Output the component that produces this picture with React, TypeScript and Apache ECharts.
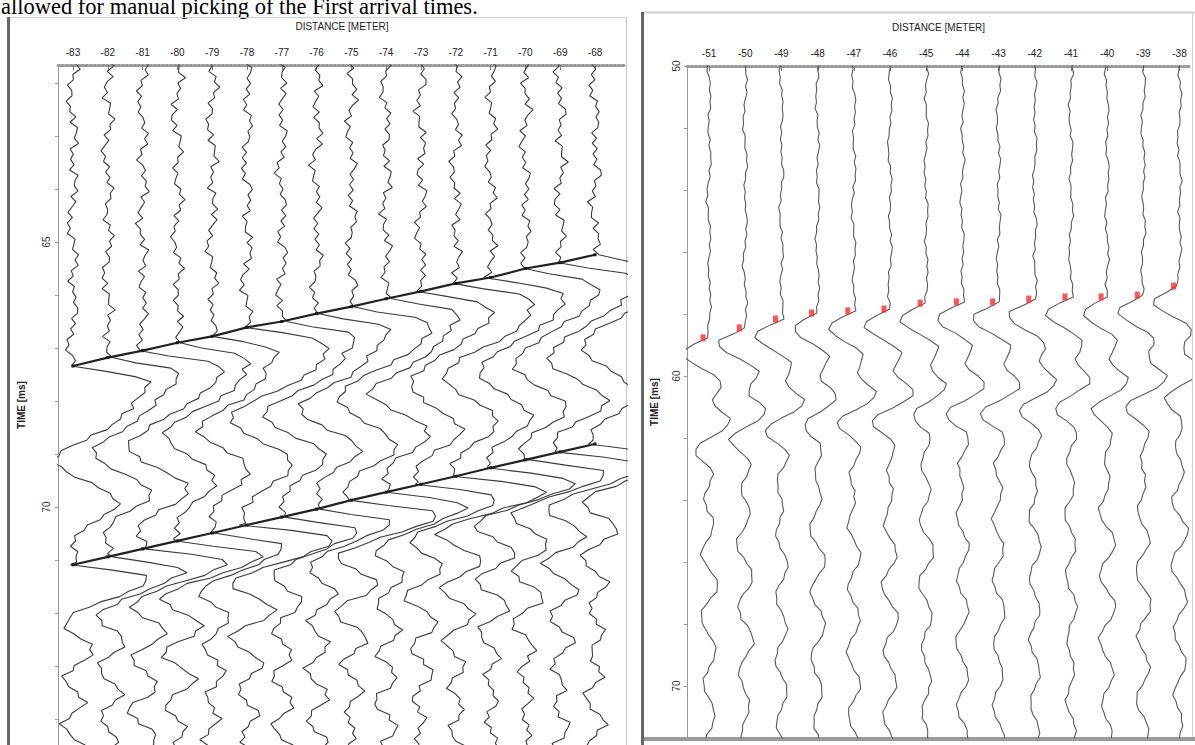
import React, { useEffect, useRef } from "react";
import * as echarts from "echarts";

// ---------- LEFT PANEL DATA ----------
const DIST_L = [-83, -82, -81, -80, -79, -78, -77, -76, -75, -74, -73, -72, -71, -70, -69, -68];
const X_TICKS_L = DIST_L;
const Y_LABELS_L = [65, 70];
const Y_TICKS_L = [62, 63, 64, 65, 66, 67, 68, 69, 70, 71, 72, 73, 74];
// first-arrival picks (ms)
const PICK1_L = [67.34, 67.18, 67.05, 66.9, 66.78, 66.61, 66.5, 66.35, 66.22, 66.07, 65.93, 65.78, 65.67, 65.5, 65.39, 65.24];
// second event picks (ms)
const PICK2_L = [71.09, 70.94, 70.79, 70.64, 70.49, 70.34, 70.19, 70.04, 69.87, 69.72, 69.57, 69.42, 69.26, 69.11, 68.96, 68.81];
const GAIN_L = [1.0, 0.95, 1.05, 1.0, 0.9, 1.1, 1.0, 0.95, 1.05, 1.0, 0.92, 1.08, 1.0, 0.97, 1.03, 0.95];
const NOFF_L = [0, 17, 33, 8, 41, 25, 12, 46, 3, 29, 38, 20, 9, 44, 27, 14];
const DT_L = 0.1; // ms per sample
const PRE_L = 60;
// wavelet after first arrival (amplitude in metres of trace offset)
const WAVE1_L = [0, 0.86, 1.72, 2.07, 2.13, 2.01, 1.9, 1.78, 1.67, 1.49, 1.29, 1.06, 0.8, 0.52, 0.23, 0, -0.23, -0.37, -0.4, -0.29, -0.09, 0.17, 0.46, 0.75, 0.98, 1.15, 1.21, 1.15, 0.98, 0.75, 0.49, 0.26, 0.09, 0, -0.06, -0.06, 0, 0];
// wavelet after second event
const WAVE2_L = [0, 1.15, 2.16, 2.3, 2.07, 1.72, 1.29, 0.86, 0.43, 0.06, -0.23, -0.34, -0.23, 0, 0.29, 0.52, 0.63, 0.52, 0.29, 0, -0.23, -0.34, -0.29, -0.11, 0.11, 0.34, 0.43, 0.34, 0.14, -0.09, -0.26, -0.29, -0.17, 0, 0.17, 0.29, 0.26, 0.11, -0.06, -0.2, -0.23, -0.14, 0, 0.14, 0.23, 0.17, 0.03, -0.11, -0.2, -0.17, -0.06, 0.09, 0.2, 0.2, 0.09, -0.06, -0.17, -0.17, -0.06, 0.09, 0.17, 0.14, 0.03, -0.09, -0.17, -0.14, -0.03, 0.09, 0.14, 0.11, 0, -0.11, -0.14, -0.09, 0.03, 0.11, 0.14, 0.09, -0.03, -0.11];
const NOISE_AMP_L = 0.12;
const DRIFT_AMP_L = 0.14;

// ---------- RIGHT PANEL DATA ----------
const DIST_R = [-51, -50, -49, -48, -47, -46, -45, -44, -43, -42, -41, -40, -39, -38];
const X_TICKS_R = DIST_R;
const Y_LABELS_R = [50, 60, 70];
const Y_TICKS_R = [50, 52, 54, 56, 58, 60, 62, 64, 66, 68, 70];
const PICK_R = [58.77, 58.45, 58.16, 57.97, 57.9, 57.84, 57.65, 57.61, 57.61, 57.52, 57.45, 57.45, 57.39, 57.1];
const GAIN_R = [1.0, 1.05, 1.0, 0.95, 1.0, 1.05, 0.95, 1.0, 1.05, 1.0, 0.95, 1.0, 1.05, 1.0];
const NOFF_R = [5, 22, 37, 11, 48, 30, 16, 2, 43, 26, 9, 35, 19, 40];
const DT_R = 0.2;
const PRE_R = 45;
const WAVE_R = [0, -0.33, -0.66, -0.69, -0.5, -0.19, 0.11, 0.3, 0.28, 0.17, 0.11, 0.17, 0.39, 0.58, 0.55, 0.33, 0.03, -0.28, -0.44, -0.36, -0.17, 0.06, 0.14, 0.11, 0.03, -0.06, -0.11, -0.08, -0.03, 0.06, 0.08, 0.06, 0, -0.08, -0.17, -0.19, -0.14, -0.03, 0.08, 0.17, 0.19, 0.14, 0.03, -0.08, -0.17, -0.19, -0.14, -0.06, 0.06, 0.14, 0.19, 0.17, 0.08, -0.03, -0.11, -0.17, -0.14, -0.08, 0, 0.08, 0.14, 0.14, 0.08, 0, -0.08, -0.14, -0.14, -0.08, 0, 0.08, 0.11, 0.11, 0.06, -0.03, -0.08];
const NOISE_AMP_R = 0.035;
const DRIFT_AMP_R = 0.06;

// shared noise tables (read-off jitter patterns)
const NOISE = [0.3, -0.8, 0.6, -0.2, 0.9, -0.5, 0.1, -1.0, 0.4, 0.7, -0.6, 0.2, -0.3, 0.8, -0.9, 0.5, 0.0, -0.4, 1.0, -0.7, 0.3, -0.1, 0.6, -0.8, 0.9, -0.2, -0.6, 0.4, -1.0, 0.7, 0.1, -0.5, 0.8, -0.3, 0.2, -0.9, 0.6, 0.0, -0.7, 0.5, -0.2, 0.9, -0.4, 0.3, -0.8, 0.7, -0.1, 0.4, -0.6, 0.2];
const DRIFT = [0, 0.3, 0.6, 0.8, 0.7, 0.4, 0, -0.3, -0.6, -0.8, -0.9, -0.7, -0.4, -0.1, 0.2, 0.5, 0.7, 0.6, 0.3, 0, -0.2, -0.4, -0.3];

const TITLE_TEXT = "allowed for manual picking of the First arrival times.";
const AXIS_X_NAME = "DISTANCE [METER]";
const AXIS_Y_NAME = "TIME [ms]";

function makeJitter(o: number, na: number, da: number) {
  let c = 0;
  return () => {
    const v = na * NOISE[(c + o) % NOISE.length] + da * DRIFT[(c + 2 * o) % DRIFT.length];
    c++;
    return v;
  };
}

function leftTrace(i: number) {
  const d = DIST_L[i], p1 = PICK1_L[i], p2 = PICK2_L[i], g = GAIN_L[i];
  const jit = makeJitter(NOFF_L[i], NOISE_AMP_L, DRIFT_AMP_L);
  const pts: number[][] = [];
  for (let k = PRE_L; k >= 1; k--) pts.push([d + jit(), p1 - k * DT_L]);
  for (let j = 0; j < WAVE1_L.length && p1 + j * DT_L < p2; j++) pts.push([d + g * WAVE1_L[j] + jit(), p1 + j * DT_L]);
  for (let j = 0; j < WAVE2_L.length; j++) pts.push([d + g * WAVE2_L[j] + jit(), p2 + j * DT_L]);
  return pts;
}

function rightTrace(i: number) {
  const d = DIST_R[i], p = PICK_R[i], g = GAIN_R[i];
  const jit = makeJitter(NOFF_R[i], NOISE_AMP_R, DRIFT_AMP_R);
  const pts: number[][] = [];
  for (let k = PRE_R; k >= 1; k--) pts.push([d + jit(), p - k * DT_R]);
  for (let j = 0; j < WAVE_R.length; j++) pts.push([d + g * WAVE_R[j] + jit(), p + j * DT_R]);
  return pts;
}

const LABEL_FONT = "'Liberation Sans Narrow', 'Arial Narrow', 'Liberation Sans', sans-serif";

export default function App() {
  const ref = useRef<HTMLDivElement>(null);
  useEffect(() => {
    if (!ref.current) return;
    const chart = echarts.init(ref.current, undefined, { renderer: "svg" });

    const series: any[] = [];
    DIST_L.forEach((_, i) => {
      series.push({
        type: "line", xAxisIndex: 0, yAxisIndex: 0, data: leftTrace(i),
        showSymbol: false, symbol: "none", silent: true, clip: true,
        lineStyle: { color: "#3a3a3a", width: 1.1 }, z: 2,
      });
    });
    series.push({
      type: "line", xAxisIndex: 0, yAxisIndex: 0,
      data: DIST_L.map((d, i) => [d, PICK1_L[i]]),
      symbol: "rect", symbolSize: 3, showSymbol: true, silent: true,
      itemStyle: { color: "#1a1a1a" }, lineStyle: { color: "#222", width: 2.2 }, z: 3,
    });
    series.push({
      type: "line", xAxisIndex: 0, yAxisIndex: 0,
      data: DIST_L.map((d, i) => [d, PICK2_L[i]]),
      symbol: "rect", symbolSize: 3, showSymbol: true, silent: true,
      itemStyle: { color: "#1a1a1a" }, lineStyle: { color: "#222", width: 2.2 }, z: 3,
    });
    DIST_R.forEach((_, i) => {
      series.push({
        type: "line", xAxisIndex: 1, yAxisIndex: 1, data: rightTrace(i),
        showSymbol: false, symbol: "none", silent: true, clip: true,
        lineStyle: { color: "#5a5a5a", width: 1.1 }, z: 2,
      });
    });
    series.push({
      type: "scatter", xAxisIndex: 1, yAxisIndex: 1,
      data: DIST_R.map((d, i) => [d, PICK_R[i]]),
      symbol: "rect", symbolSize: [5, 7], symbolOffset: [-6, 0], silent: true,
      itemStyle: { color: "#ff2a2a" }, z: 4,
    });

    const xAxisCommon = {
      type: "value", position: "top", splitLine: { show: false },
      axisLine: { show: true, onZero: false, lineStyle: { color: "#9a9a9a", width: 3, type: [2, 2] } },
      axisTick: { show: true, inside: true, length: 5, lineStyle: { color: "#777" } },
      axisLabel: { fontSize: 10, color: "#222", margin: 8, fontFamily: LABEL_FONT },
      name: AXIS_X_NAME, nameLocation: "middle", nameGap: 34,
      nameTextStyle: { fontSize: 10, color: "#222", fontFamily: LABEL_FONT },
    };
    const yAxisCommon = {
      type: "value", inverse: true, splitLine: { show: false },
      axisLine: { show: true, lineStyle: { color: "#999", width: 1 } },
      axisTick: { show: true, length: 3, lineStyle: { color: "#999" } },
      name: AXIS_Y_NAME, nameLocation: "middle", nameRotate: 90,
      nameTextStyle: { fontSize: 10, color: "#222", fontWeight: "bold", fontFamily: LABEL_FONT },
    };

    const option: any = {
      animation: false,
      backgroundColor: "#ffffff",
      grid: [
        { left: 58, top: 65, width: 568, height: 680 },
        { left: 687, top: 66, width: 503, height: 672 },
      ],
      xAxis: [
        {
          ...xAxisCommon, gridIndex: 0, min: -83.43, max: -67.11,
          axisTick: { ...xAxisCommon.axisTick, customValues: X_TICKS_L },
          axisLabel: { ...xAxisCommon.axisLabel, customValues: X_TICKS_L },
        },
        {
          ...xAxisCommon, gridIndex: 1, min: -51.61, max: -37.71,
          axisTick: { ...xAxisCommon.axisTick, customValues: X_TICKS_R },
          axisLabel: { ...xAxisCommon.axisLabel, customValues: X_TICKS_R },
        },
      ],
      yAxis: [
        {
          ...yAxisCommon, gridIndex: 0, min: 61.66, max: 74.49, nameGap: 32,
          axisTick: { ...yAxisCommon.axisTick, customValues: Y_TICKS_L },
          axisLabel: { customValues: Y_LABELS_L, rotate: 90, fontSize: 10, color: "#333", margin: 7, fontFamily: LABEL_FONT },
        },
        {
          ...yAxisCommon, gridIndex: 1, min: 50, max: 71.68, nameGap: 28,
          axisTick: { ...yAxisCommon.axisTick, customValues: Y_TICKS_R },
          axisLabel: { customValues: Y_LABELS_R, rotate: 90, fontSize: 10, color: "#333", margin: 6, fontFamily: LABEL_FONT },
        },
      ],
      series,
      graphic: [
        {
          type: "text", x: 1, y: 6, silent: true,
          style: { text: TITLE_TEXT, font: "22.5px 'Liberation Serif', 'Times New Roman', serif", fill: "#000", textVerticalAlign: "middle" },
        },
        // left panel frame
        { type: "line", silent: true, shape: { x1: 9, y1: 17.5, x2: 627, y2: 17.5 }, style: { stroke: "#cfcfcf", lineWidth: 1 } },
        { type: "line", silent: true, shape: { x1: 626.5, y1: 17, x2: 626.5, y2: 745 }, style: { stroke: "#c4c4c4", lineWidth: 1 } },
        { type: "rect", silent: true, shape: { x: 7, y: 17, width: 3, height: 728 }, style: { fill: "#666" } },
        // right panel frame
        { type: "line", silent: true, shape: { x1: 643, y1: 12.5, x2: 1195, y2: 12.5 }, style: { stroke: "#cfcfcf", lineWidth: 2 } },
        { type: "rect", silent: true, shape: { x: 641, y: 12, width: 3, height: 733 }, style: { fill: "#666" } },
        { type: "line", silent: true, shape: { x1: 1192.5, y1: 12, x2: 1192.5, y2: 740 }, style: { stroke: "#cfcfcf", lineWidth: 1 } },
        { type: "rect", silent: true, shape: { x: 644, y: 737, width: 551, height: 4 }, style: { fill: "#9a9a9a" } },
      ],
    };
    chart.setOption(option);
    return () => chart.dispose();
  }, []);
  return <div ref={ref} style={{ position: "fixed", left: 0, top: 0, width: 1195, height: 745, background: "#fff" }} />;
}
